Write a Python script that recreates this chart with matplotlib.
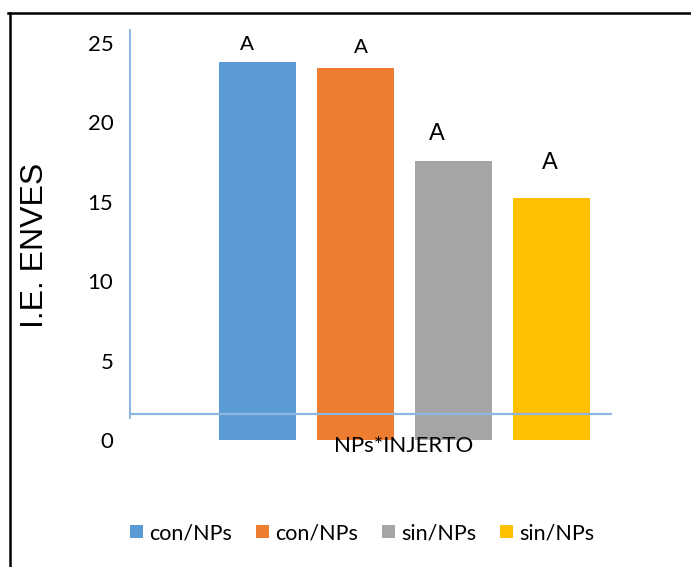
"""
Bar chart of I.E. ENVES by NPs*INJERTO treatment.
"""

import matplotlib.pyplot as plt
from matplotlib.lines import Line2D
from matplotlib.patches import Patch

treatments = ["con/NPs", "con/NPs", "sin/NPs", "sin/NPs"]
ie_enves = [23.8, 23.4, 17.55, 15.25]
letters = ["A", "A", "A", "A"]

colors = ["#5B9BD5", "#ED7D31", "#A5A5A5", "#FFC000"]
axis_blue = "#8DB6E2"

# letter centre offsets in points (dx, dy) from each bar top
letter_offsets = [(-7.5, 13), (4, 15), (-12, 20), (-1, 25)]
letter_sizes = [15, 15, 17, 17]

W, H = 691, 567


def main() -> None:
    plt.rcParams["font.family"] = ["Lato", "DejaVu Sans"]
    fig = plt.figure(figsize=(W / 100, H / 100), dpi=100)

    # axes box in pixel terms: x 130..611, y 30..440
    ax = fig.add_axes([130 / W, (H - 440) / H, 481 / W, 410 / H])
    x = list(range(len(ie_enves)))
    ax.bar(x, ie_enves, width=0.786, color=colors, clip_on=False)

    ax.set_xlim(-1.301, 3.607)
    ax.set_ylim(0, 25.82)
    ax.set_yticks([0, 5, 10, 15, 20, 25])
    ax.tick_params(axis="y", length=0, labelsize=16, pad=12)
    ax.set_xticks([])
    for side in ax.spines.values():
        side.set_visible(False)

    # loose axis lines
    ax.plot([0, 1], [1.64 / 25.82] * 2, transform=ax.transAxes,
            color=axis_blue, lw=1.6, clip_on=False)
    ax.plot([0, 0], [0.054, 1], transform=ax.transAxes,
            color=axis_blue, lw=1.4, clip_on=False)

    for xi, val, txt, off, fs in zip(x, ie_enves, letters, letter_offsets, letter_sizes):
        ax.annotate(txt, (xi, val), xytext=off, textcoords="offset points",
                    ha="center", va="center", fontsize=fs,
                    family=["Liberation Sans", "DejaVu Sans"])

    fig.text(35 / W, 1 - 245 / H, "I.E. ENVES", rotation=90, ha="center",
             va="center", fontsize=23, family=["Liberation Sans", "DejaVu Sans"])
    fig.text(404 / W, 1 - 446 / H, "NPs*INJERTO", ha="center", va="center",
             fontsize=16)

    handles = [Patch(facecolor=c, edgecolor="none") for c in colors]
    fig.legend(handles, treatments, loc="center", bbox_to_anchor=(362 / W, 1 - 533 / H),
               ncol=4, frameon=False, fontsize=15.5, handlelength=0.6,
               handleheight=0.6, handletextpad=0.3, columnspacing=1.1)

    # outer frame (top and left edges)
    fig.add_artist(Line2D([8 / W, 1], [1 - 13 / H] * 2, color="black", lw=1.8))
    fig.add_artist(Line2D([10 / W] * 2, [0, 1 - 13 / H], color="black", lw=1.8))

    fig.savefig("out.png", dpi=100)
    plt.close(fig)


if __name__ == "__main__":
    main()
